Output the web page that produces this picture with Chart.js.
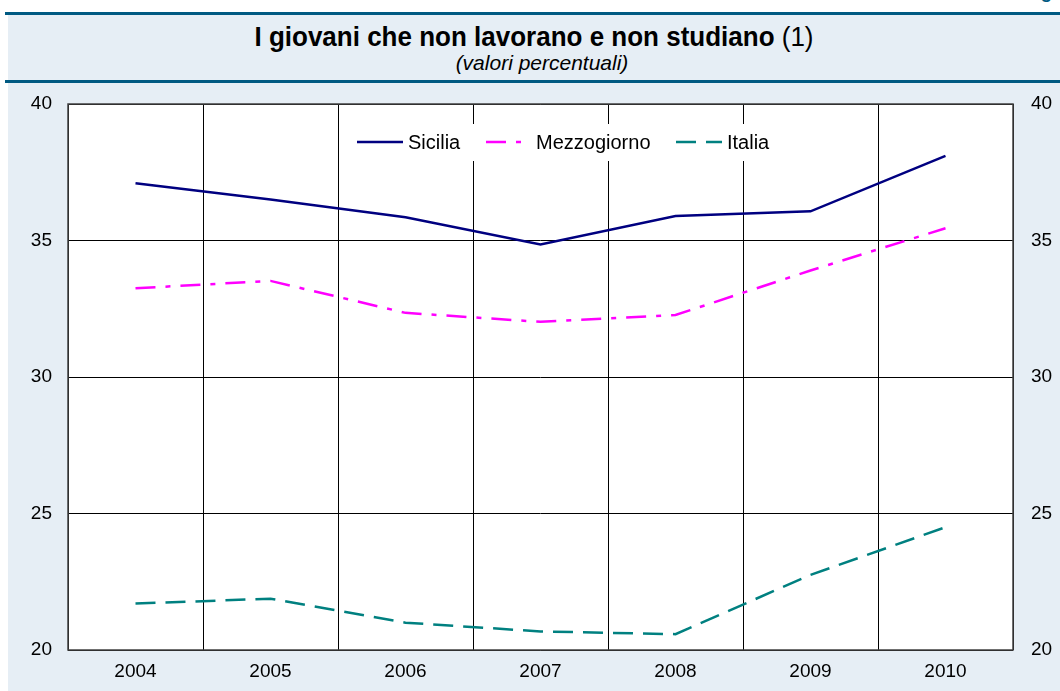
<!DOCTYPE html>
<html>
<head>
<meta charset="utf-8">
<script src="https://cdn.jsdelivr.net/npm/chart.js@4.4.0/dist/chart.umd.min.js"></script>
<style>
html,body{margin:0;padding:0;width:1060px;height:691px;overflow:hidden;background:#fff;font-family:"Liberation Sans",Arial,sans-serif;}
#panel{position:absolute;left:8px;top:12px;width:1052px;height:679px;background:#e6eef5;}
#topline{position:absolute;left:5px;top:12px;width:1055px;height:3px;background:#005a82;}
#midline{position:absolute;left:5px;top:80px;width:1055px;height:3px;background:#005a82;}
#title{position:absolute;left:0;top:22px;width:1068px;text-align:center;font-size:26px;line-height:30px;color:#000;transform:scaleY(1.05);}
#sub{position:absolute;left:0;top:52px;width:1084px;text-align:center;font-size:21px;line-height:22px;font-style:italic;color:#000;}
#fig{position:absolute;right:8px;top:-19px;font-size:19px;font-weight:bold;color:#005a82;}
#c{position:absolute;left:0;top:0;}
</style>
</head>
<body>
<div id="panel"></div>
<div id="topline"></div>
<div id="midline"></div>
<div id="fig">Fig</div>
<div id="title"><b>I giovani che non lavorano e non studiano</b> (1)</div>
<div id="sub">(valori percentuali)</div>
<canvas id="c" width="1060" height="691"></canvas>
<script>
const categories = ['2004','2005','2006','2007','2008','2009','2010'];
const sicilia = [37.1, 36.5, 35.85, 34.85, 35.9, 36.07, 38.1];
const mezzogiorno = [33.25, 33.52, 32.35, 32.02, 32.27, 33.9, 35.45];
const italia = [21.7, 21.88, 21.0, 20.68, 20.58, 22.75, 24.5];
const yTicks = [20, 25, 30, 35, 40];

const FONT = '"Liberation Sans", Arial, sans-serif';

const bgPlugin = {
  id: 'bg',
  beforeDraw(chart) {
    const {ctx, chartArea: a} = chart;
    ctx.save();
    ctx.fillStyle = '#ffffff';
    ctx.fillRect(a.left, a.top, a.right - a.left, a.bottom - a.top);
    ctx.restore();
  },
  afterDatasetsDraw(chart) {
    const {ctx, chartArea: a} = chart;
    ctx.save();
    ctx.strokeStyle = '#404040';
    ctx.lineWidth = 1.5;
    ctx.strokeRect(a.left, a.top, a.right - a.left, a.bottom - a.top);
    // legend
    ctx.fillStyle = '#ffffff';
    ctx.fillRect(350, 124, 432, 37);
    const items = [
      {x: 357, tx: 408, len: 46},
      {x: 486, tx: 536, len: 36},
      {x: 676, tx: 727, len: 46}
    ];
    chart.data.datasets.forEach((ds, i) => {
      const it = items[i];
      ctx.strokeStyle = ds.borderColor;
      ctx.lineWidth = 2.5;
      ctx.setLineDash(ds.borderDash || []);
      ctx.beginPath();
      ctx.moveTo(it.x, 142);
      ctx.lineTo(it.x + it.len, 142);
      ctx.stroke();
      ctx.setLineDash([]);
      ctx.fillStyle = '#000';
      ctx.font = '20px ' + FONT;
      ctx.textBaseline = 'middle';
      ctx.textAlign = 'left';
      ctx.fillText(ds.label, it.tx, 143);
    });
    ctx.restore();
  }
};

new Chart(document.getElementById('c'), {
  type: 'line',
  data: {
    labels: categories,
    datasets: [
      {label: 'Sicilia', data: sicilia, borderColor: '#000080', borderWidth: 2.5, pointRadius: 0, tension: 0, fill: false, yAxisID: 'y'},
      {label: 'Mezzogiorno', data: mezzogiorno, borderColor: '#ff00ff', borderWidth: 2.5, borderDash: [20, 10, 5, 10], pointRadius: 0, tension: 0, fill: false, yAxisID: 'y'},
      {label: 'Italia', data: italia, borderColor: '#008080', borderWidth: 2.5, borderDash: [20, 10], pointRadius: 0, tension: 0, fill: false, yAxisID: 'y'}
    ]
  },
  options: {
    responsive: false,
    animation: false,
    devicePixelRatio: 1,
    layout: {padding: {left: 0, right: 0, top: 104, bottom: 0}},
    plugins: {legend: {display: false}, title: {display: false}, tooltip: {enabled: false}},
    scales: {
      x: {
        type: 'category',
        offset: true,
        grid: {offset: true, color: '#000', lineWidth: 1, drawTicks: false},
        border: {display: false},
        ticks: {color: '#000', font: {size: 19, family: FONT}, padding: 10, maxRotation: 0},
        afterFit(s) { s.height = 41; }
      },
      y: {
        position: 'left',
        min: 20, max: 40,
        afterBuildTicks(s) { s.ticks = yTicks.map(v => ({value: v})); },
        grid: {color: '#000', lineWidth: 1, drawTicks: false},
        border: {display: false},
        ticks: {color: '#000', font: {size: 19, family: FONT}, padding: 16},
        afterFit(s) { s.width = 68; }
      },
      y2: {
        position: 'right',
        min: 20, max: 40,
        afterBuildTicks(s) { s.ticks = yTicks.map(v => ({value: v})); },
        grid: {display: false, drawTicks: false},
        border: {display: false},
        ticks: {color: '#000', font: {size: 19, family: FONT}, padding: 18},
        afterFit(s) { s.width = 47; }
      }
    }
  },
  plugins: [bgPlugin]
});
</script>
</body>
</html>
